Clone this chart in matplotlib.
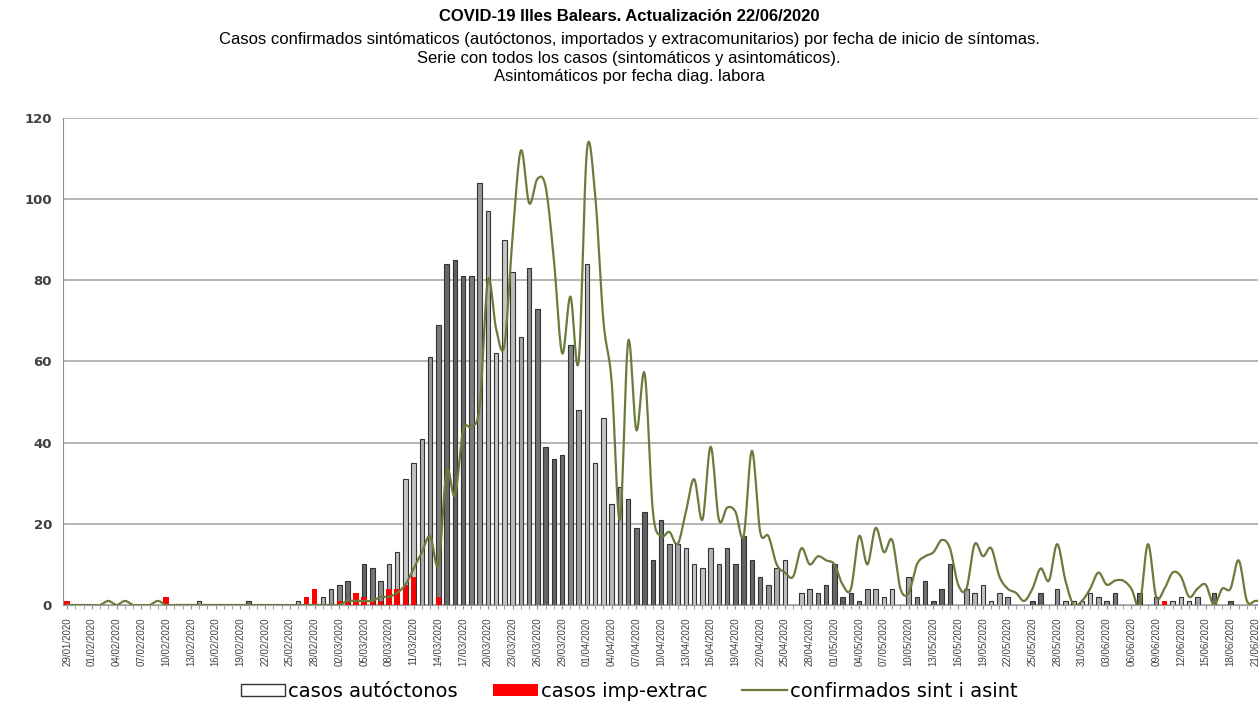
import numpy as np
import pandas as pd
import matplotlib
matplotlib.use('Agg')
import matplotlib.pyplot as plt
from matplotlib.patches import Patch
from matplotlib.lines import Line2D

# fechas de inicio de sintomas (29/01/2020 - 22/06/2020)
fechas = pd.date_range('2020-01-29', '2020-06-22', freq='D')

# casos autoctonos por dia
autoctonos = [0, 0, 0, 0, 0, 0, 0, 0, 0, 0,
              0, 0, 0, 0, 0, 0, 1, 0, 0, 0,
              0, 0, 1, 0, 0, 0, 0, 0, 1, 0,
              0, 2, 4, 5, 6, 0, 10, 9, 6, 10,
              13, 31, 35, 41, 61, 69, 84, 85, 81, 81,
              104, 97, 62, 90, 82, 66, 83, 73, 39, 36,
              37, 64, 48, 84, 35, 46, 25, 29, 26, 19,
              23, 11, 21, 15, 15, 14, 10, 9, 14, 10,
              14, 10, 17, 11, 7, 5, 9, 11, 0, 3,
              4, 3, 5, 10, 2, 3, 1, 4, 4, 2,
              4, 0, 7, 2, 6, 1, 4, 10, 0, 4,
              3, 5, 1, 3, 2, 0, 0, 1, 3, 0,
              4, 1, 1, 1, 3, 2, 1, 3, 0, 0,
              3, 0, 2, 0, 1, 2, 1, 2, 0, 3,
              0, 1, 0, 0, 0, 0]

# casos importados y extracomunitarios
importados = [1, 0, 0, 0, 0, 0, 0, 0, 0, 0,
              0, 0, 2, 0, 0, 0, 0, 0, 0, 0,
              0, 0, 0, 0, 0, 0, 0, 0, 0, 2,
              4, 0, 0, 1, 1, 3, 2, 1, 1, 4,
              4, 5, 7, 0, 0, 2, 0, 0, 0, 0,
              0, 0, 0, 0, 0, 0, 0, 0, 0, 0,
              0, 0, 0, 0, 0, 0, 0, 0, 0, 0,
              0, 0, 0, 0, 0, 0, 0, 0, 0, 0,
              0, 0, 0, 0, 0, 0, 0, 0, 0, 0,
              0, 0, 0, 0, 0, 0, 0, 0, 0, 0,
              0, 0, 0, 0, 0, 0, 0, 0, 0, 0,
              0, 0, 0, 0, 0, 0, 0, 0, 0, 0,
              0, 0, 0, 0, 0, 0, 0, 0, 0, 0,
              0, 0, 0, 1, 0, 0, 0, 0, 0, 0,
              0, 0, 0, 0, 0, 0]

# confirmados sintomaticos y asintomaticos
confirmados = [0, 0, 0, 0, 0, 1, 0, 1, 0, 0,
               0, 1, 0, 0, 0, 0, 0, 0, 0, 0,
               0, 0, 0, 0, 0, 0, 0, 0, 0, 0,
               0, 0, 0, 0, 1, 1, 1, 1, 2, 2,
               3, 5, 9, 13, 17, 10, 33, 27, 43, 44,
               49, 80, 68, 64, 91, 112, 99, 105, 103, 85,
               62, 76, 60, 112, 101, 70, 55, 21, 65, 43,
               57, 23, 17, 18, 15, 23, 31, 21, 39, 21,
               24, 23, 17, 38, 18, 17, 10, 8, 7, 14,
               10, 12, 11, 10, 5, 4, 17, 10, 19, 13,
               16, 4, 3, 10, 12, 13, 16, 14, 5, 4,
               15, 12, 14, 7, 4, 3, 1, 4, 9, 6,
               15, 6, 0, 1, 4, 8, 5, 6, 6, 4,
               0, 15, 2, 4, 8, 7, 2, 4, 5, 0,
               4, 4, 11, 1, 1, 1]

titulo = 'COVID-19 Illes Balears. Actualización 22/06/2020'
subtitulos = ['Casos confirmados sintómaticos (autóctonos, importados y extracomunitarios) por fecha de inicio de síntomas.',
              'Serie con todos los casos (sintomáticos y asintomáticos).',
              'Asintomáticos por fecha diag. labora']


def suavizar(y, n=12):
    # linea suavizada tipo excel (catmull-rom)
    y = np.asarray(y, float)
    yp = np.concatenate([[y[0]], y, [y[-1]]])
    t = np.linspace(0, 1, n, endpoint=False)
    xs, ys = [], []
    for k in range(len(y) - 1):
        p0, p1, p2, p3 = yp[k], yp[k+1], yp[k+2], yp[k+3]
        ys.append(0.5*(2*p1 + (-p0+p2)*t + (2*p0-5*p1+4*p2-p3)*t**2 + (-p0+3*p1-3*p2+p3)*t**3))
        xs.append(k + t)
    xs.append([len(y) - 1])
    ys.append([y[-1]])
    return np.concatenate(xs), np.concatenate(ys)


x = np.arange(len(fechas))

fig = plt.figure(figsize=(12.58, 7.26), dpi=100)
ax = fig.add_axes([0.0501, 0.1667, 0.9575, 0.6708])

# tonos de gris de las barras (efecto degradado del original)
tonos = [str(round(0.58 - 0.2*np.cos(2*np.pi*(i - 47)/11.7), 3)) for i in x]

ax.bar(x, autoctonos, width=0.55, color=tonos, edgecolor='#333333', linewidth=0.8, zorder=2)
ax.bar(x, importados, width=0.65, color='#ff0000', edgecolor='none', zorder=3)
xs, ys = suavizar(confirmados)
ax.plot(xs, ys, color='#6a7c3c', linewidth=1.6, zorder=4)

ax.set_xlim(-0.5, len(fechas) - 0.5)
ax.set_ylim(0, 120)
ax.set_yticks(range(0, 121, 20))
ax.yaxis.grid(True, color='#a0a0a0', linewidth=1.1, zorder=0)
ax.set_axisbelow(True)
for s in ['top', 'right']:
    ax.spines[s].set_visible(False)
ax.spines['left'].set_color('#909090')
ax.spines['bottom'].set_color('#a0a0a0')

ax.set_xticks(x[::3])
ax.set_xticklabels([f.strftime('%d/%m/%Y') for f in fechas[::3]], rotation=90,
                   fontsize=7, color='#404040', family='Liberation Sans')
ax.set_xticks(x, minor=True)
ax.tick_params(axis='x', which='both', length=3, color='#909090', pad=6)
ax.tick_params(axis='y', length=0, pad=8)
for lab in ax.get_yticklabels():
    lab.set_fontsize(9.5)
    lab.set_fontweight('bold')
    lab.set_color('#404040')

fig.text(0.5, 0.9766, titulo, ha='center', va='center', fontsize=12, fontweight='bold',
         family='Liberation Sans')
for i, s in enumerate(subtitulos):
    fig.text(0.5, 0.945 - i*0.0255, s, ha='center', va='center', fontsize=12,
             family='Liberation Sans')

handles = [Patch(facecolor='white', edgecolor='#333333', linewidth=1),
           Patch(facecolor='#ff0000', edgecolor='none'),
           Line2D([], [], color='#6a7c3c', linewidth=1.6)]
fig.legend(handles, ['casos autóctonos', 'casos imp-extrac', 'confirmados sint i asint'],
           loc='center', bbox_to_anchor=(0.5, 0.048), ncol=3, frameon=False,
           fontsize=14, handlelength=2.3, handleheight=0.6, handletextpad=0.15,
           columnspacing=1.8)

fig.savefig('out.png', dpi=100)
